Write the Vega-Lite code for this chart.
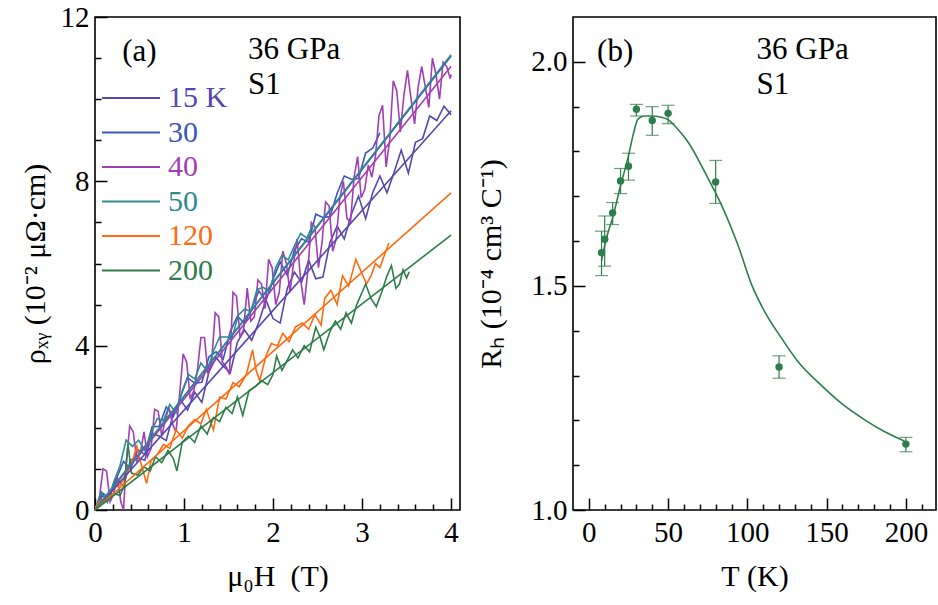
{
  "$schema": "https://vega.github.io/schema/vega-lite/v6.json",
  "autosize": {"type": "pad"},
  "padding": {"left": 19, "top": 2, "right": 0, "bottom": 0},
  "spacing": 14,
  "config": {
    "font": "Liberation Serif",
    "view": {"stroke": "#000", "strokeWidth": 1.6},
    "axis": {"labelFont": "Liberation Serif", "labelFontSize": 29, "labelColor": "#000", "titleFont": "Liberation Serif", "titleFontSize": 30, "titleFontWeight": "normal", "titleColor": "#000", "tickColor": "#000", "tickWidth": 1.5, "domain": false, "grid": false, "labelOverlap": false, "labelFlush": false, "labelBound": false},
    "text": {"font": "Liberation Serif", "fontSize": 31, "color": "#000", "align": "left", "baseline": "middle"}
  },
  "datasets": {
    "raw": [
      {"T":"15 K","H":0,"r":0},{"T":"15 K","H":0.08,"r":0.34},{"T":"15 K","H":0.16,"r":0.29},{"T":"15 K","H":0.24,"r":0.78},{"T":"15 K","H":0.32,"r":0.58},{"T":"15 K","H":0.4,"r":1.22},{"T":"15 K","H":0.48,"r":1.27},{"T":"15 K","H":0.56,"r":1.21},{"T":"15 K","H":0.64,"r":1.86},{"T":"15 K","H":0.72,"r":1.8},{"T":"15 K","H":0.8,"r":1.69},{"T":"15 K","H":0.88,"r":2.34},{"T":"15 K","H":0.96,"r":2.68},{"T":"15 K","H":1.04,"r":2.43},{"T":"15 K","H":1.12,"r":2.87},{"T":"15 K","H":1.2,"r":2.62},{"T":"15 K","H":1.28,"r":3.36},{"T":"15 K","H":1.36,"r":3.71},{"T":"15 K","H":1.44,"r":3.5},{"T":"15 K","H":1.52,"r":3.34},{"T":"15 K","H":1.6,"r":4.09},{"T":"15 K","H":1.68,"r":4.38},{"T":"15 K","H":1.76,"r":4.13},{"T":"15 K","H":1.84,"r":4.57},{"T":"15 K","H":1.92,"r":5.12},{"T":"15 K","H":2.0,"r":4.66},{"T":"15 K","H":2.08,"r":4.55},{"T":"15 K","H":2.16,"r":5.4},{"T":"15 K","H":2.24,"r":5.79},{"T":"15 K","H":2.32,"r":5.54},{"T":"15 K","H":2.4,"r":6.08},{"T":"15 K","H":2.48,"r":5.63},{"T":"15 K","H":2.56,"r":5.67},{"T":"15 K","H":2.64,"r":6.52},{"T":"15 K","H":2.72,"r":6.91},{"T":"15 K","H":2.8,"r":6.6},{"T":"15 K","H":2.88,"r":7.2},{"T":"15 K","H":2.96,"r":7.64},{"T":"15 K","H":3.04,"r":7.09},{"T":"15 K","H":3.12,"r":7.73},{"T":"15 K","H":3.2,"r":8.13},{"T":"15 K","H":3.28,"r":7.72},{"T":"15 K","H":3.36,"r":8.22},{"T":"15 K","H":3.44,"r":8.76},{"T":"15 K","H":3.52,"r":8.2},{"T":"15 K","H":3.6,"r":8.95},{"T":"15 K","H":3.68,"r":9.04},{"T":"15 K","H":3.76,"r":9.59},{"T":"15 K","H":3.84,"r":9.48},{"T":"15 K","H":3.92,"r":9.83},{"T":"15 K","H":4.0,"r":9.62},
      {"T":"30","H":0,"r":0},{"T":"30","H":0.08,"r":0.42},{"T":"30","H":0.16,"r":0.29},{"T":"30","H":0.24,"r":0.76},{"T":"30","H":0.32,"r":1.18},{"T":"30","H":0.4,"r":1.0},{"T":"30","H":0.48,"r":1.47},{"T":"30","H":0.56,"r":1.35},{"T":"30","H":0.64,"r":2.02},{"T":"30","H":0.72,"r":2.04},{"T":"30","H":0.8,"r":2.51},{"T":"30","H":0.88,"r":2.28},{"T":"30","H":0.96,"r":2.75},{"T":"30","H":1.04,"r":3.22},{"T":"30","H":1.12,"r":3.09},{"T":"30","H":1.2,"r":3.11},{"T":"30","H":1.28,"r":3.73},{"T":"30","H":1.36,"r":3.85},{"T":"30","H":1.44,"r":3.67},{"T":"30","H":1.52,"r":4.35},{"T":"30","H":1.6,"r":4.72},{"T":"30","H":1.68,"r":4.54},{"T":"30","H":1.76,"r":4.91},{"T":"30","H":1.84,"r":5.33},{"T":"30","H":1.92,"r":5.1},{"T":"30","H":2.0,"r":5.62},{"T":"30","H":2.08,"r":6.04},{"T":"30","H":2.16,"r":5.71},{"T":"30","H":2.24,"r":6.33},{"T":"30","H":2.32,"r":6.6},{"T":"30","H":2.4,"r":6.52},{"T":"30","H":2.48,"r":7.2},{"T":"30","H":2.56,"r":7.12},{"T":"30","H":2.64,"r":7.14},{"T":"30","H":2.72,"r":7.71},{"T":"30","H":2.8,"r":8.13},{"T":"30","H":2.88,"r":8.05},{"T":"30","H":2.96,"r":8.07},{"T":"30","H":3.04,"r":8.69},{"T":"30","H":3.12,"r":8.81},{"T":"30","H":3.2,"r":9.18},
      {"T":"40","H":0,"r":0},{"T":"40","H":0.05,"r":0.3},{"T":"40","H":0.09,"r":1.0},{"T":"40","H":0.13,"r":0.95},{"T":"40","H":0.17,"r":0.2},{"T":"40","H":0.21,"r":0.4},{"T":"40","H":0.25,"r":0.8},{"T":"40","H":0.29,"r":0.2},{"T":"40","H":0.32,"r":0},{"T":"40","H":0.35,"r":1.1},{"T":"40","H":0.39,"r":2.05},{"T":"40","H":0.43,"r":1.9},{"T":"40","H":0.47,"r":1.2},{"T":"40","H":0.51,"r":1.4},{"T":"40","H":0.55,"r":1.9},{"T":"40","H":0.59,"r":1.3},{"T":"40","H":0.63,"r":1.5},{"T":"40","H":0.67,"r":2.45},{"T":"40","H":0.71,"r":2.4},{"T":"40","H":0.75,"r":1.8},{"T":"40","H":0.79,"r":2.2},{"T":"40","H":0.83,"r":2.5},{"T":"40","H":0.87,"r":2.1},{"T":"40","H":0.91,"r":1.9},{"T":"40","H":0.95,"r":2.8},{"T":"40","H":0.99,"r":3.8},{"T":"40","H":1.03,"r":3.6},{"T":"40","H":1.07,"r":2.7},{"T":"40","H":1.11,"r":2.9},{"T":"40","H":1.15,"r":3.4},{"T":"40","H":1.19,"r":4.2},{"T":"40","H":1.23,"r":4.2},{"T":"40","H":1.27,"r":3.3},{"T":"40","H":1.31,"r":3.6},{"T":"40","H":1.35,"r":4.8},{"T":"40","H":1.39,"r":4.7},{"T":"40","H":1.43,"r":3.6},{"T":"40","H":1.47,"r":3.5},{"T":"40","H":1.51,"r":3.3},{"T":"40","H":1.55,"r":5.3},{"T":"40","H":1.59,"r":5.2},{"T":"40","H":1.63,"r":4.2},{"T":"40","H":1.67,"r":4.4},{"T":"40","H":1.71,"r":5.4},{"T":"40","H":1.75,"r":4.6},{"T":"40","H":1.79,"r":4.7},{"T":"40","H":1.83,"r":5.6},{"T":"40","H":1.87,"r":5.5},{"T":"40","H":1.91,"r":4.9},{"T":"40","H":1.95,"r":6.1},{"T":"40","H":1.99,"r":5.9},{"T":"40","H":2.03,"r":5.0},{"T":"40","H":2.07,"r":5.3},{"T":"40","H":2.11,"r":6.3},{"T":"40","H":2.15,"r":6.0},{"T":"40","H":2.19,"r":5.3},{"T":"40","H":2.23,"r":6.0},{"T":"40","H":2.27,"r":6.6},{"T":"40","H":2.31,"r":5.6},{"T":"40","H":2.35,"r":5.0},{"T":"40","H":2.39,"r":5.8},{"T":"40","H":2.43,"r":7.0},{"T":"40","H":2.47,"r":6.9},{"T":"40","H":2.51,"r":5.9},{"T":"40","H":2.55,"r":6.5},{"T":"40","H":2.59,"r":7.5},{"T":"40","H":2.63,"r":7.4},{"T":"40","H":2.67,"r":6.3},{"T":"40","H":2.71,"r":6.6},{"T":"40","H":2.75,"r":7.6},{"T":"40","H":2.79,"r":8.0},{"T":"40","H":2.83,"r":7.1},{"T":"40","H":2.87,"r":7.0},{"T":"40","H":2.91,"r":8.1},{"T":"40","H":2.95,"r":8.6},{"T":"40","H":2.99,"r":7.6},{"T":"40","H":3.03,"r":7.8},{"T":"40","H":3.07,"r":8.4},{"T":"40","H":3.11,"r":8.1},{"T":"40","H":3.15,"r":8.6},{"T":"40","H":3.19,"r":9.6},{"T":"40","H":3.23,"r":9.85},{"T":"40","H":3.27,"r":8.35},{"T":"40","H":3.31,"r":9.0},{"T":"40","H":3.35,"r":10.45},{"T":"40","H":3.39,"r":10.2},{"T":"40","H":3.43,"r":9.2},{"T":"40","H":3.47,"r":10.1},{"T":"40","H":3.51,"r":10.7},{"T":"40","H":3.55,"r":10.0},{"T":"40","H":3.59,"r":9.4},{"T":"40","H":3.63,"r":10.3},{"T":"40","H":3.67,"r":10.8},{"T":"40","H":3.71,"r":10.3},{"T":"40","H":3.75,"r":9.8},{"T":"40","H":3.79,"r":11.0},{"T":"40","H":3.83,"r":10.6},{"T":"40","H":3.87,"r":10.0},{"T":"40","H":3.91,"r":10.9},{"T":"40","H":3.95,"r":10.8},{"T":"40","H":3.99,"r":10.5},{"T":"40","H":4.0,"r":10.6},
      {"T":"50","H":0,"r":0},{"T":"50","H":0.07,"r":0.44},{"T":"50","H":0.14,"r":0.19},{"T":"50","H":0.21,"r":0.68},{"T":"50","H":0.28,"r":1.07},{"T":"50","H":0.35,"r":1.7},{"T":"50","H":0.42,"r":1.55},{"T":"50","H":0.49,"r":1.7},{"T":"50","H":0.56,"r":1.45},{"T":"50","H":0.63,"r":1.89},{"T":"50","H":0.7,"r":2.23},{"T":"50","H":0.77,"r":2.18},{"T":"50","H":0.84,"r":2.57},{"T":"50","H":0.91,"r":2.36},{"T":"50","H":0.98,"r":2.9},{"T":"50","H":1.05,"r":3.3},{"T":"50","H":1.12,"r":3.19},{"T":"50","H":1.19,"r":3.58},{"T":"50","H":1.26,"r":3.38},{"T":"50","H":1.33,"r":3.87},{"T":"50","H":1.4,"r":4.21},{"T":"50","H":1.47,"r":4.21},{"T":"50","H":1.54,"r":4.2},{"T":"50","H":1.61,"r":4.74},{"T":"50","H":1.68,"r":4.89},{"T":"50","H":1.75,"r":4.83},{"T":"50","H":1.82,"r":5.37},{"T":"50","H":1.89,"r":5.42},{"T":"50","H":1.96,"r":5.31},{"T":"50","H":2.03,"r":5.9},{"T":"50","H":2.1,"r":6.2},{"T":"50","H":2.17,"r":6.09},{"T":"50","H":2.24,"r":6.43},{"T":"50","H":2.31,"r":6.73},{"T":"50","H":2.38,"r":6.62},{"T":"50","H":2.45,"r":6.96},
      {"T":"120","H":0,"r":0.05},{"T":"120","H":0.07,"r":0.25},{"T":"120","H":0.14,"r":0.3},{"T":"120","H":0.21,"r":0.55},{"T":"120","H":0.28,"r":0.6},{"T":"120","H":0.35,"r":0.85},{"T":"120","H":0.42,"r":1.2},{"T":"120","H":0.47,"r":1.55},{"T":"120","H":0.52,"r":1.1},{"T":"120","H":0.58,"r":0.65},{"T":"120","H":0.63,"r":1.2},{"T":"120","H":0.7,"r":1.35},{"T":"120","H":0.77,"r":1.6},{"T":"120","H":0.84,"r":1.5},{"T":"120","H":0.91,"r":1.95},{"T":"120","H":0.98,"r":1.75},{"T":"120","H":1.05,"r":2.05},{"T":"120","H":1.12,"r":2.2},{"T":"120","H":1.19,"r":2.1},{"T":"120","H":1.25,"r":2.45},{"T":"120","H":1.33,"r":1.95},{"T":"120","H":1.4,"r":2.75},{"T":"120","H":1.47,"r":2.7},{"T":"120","H":1.55,"r":3.1},{"T":"120","H":1.62,"r":3.0},{"T":"120","H":1.7,"r":3.3},{"T":"120","H":1.77,"r":3.9},{"T":"120","H":1.81,"r":3.4},{"T":"120","H":1.85,"r":3.15},{"T":"120","H":1.92,"r":3.75},{"T":"120","H":1.98,"r":4.05},{"T":"120","H":2.05,"r":4.0},{"T":"120","H":2.11,"r":4.3},{"T":"120","H":2.18,"r":4.1},{"T":"120","H":2.25,"r":4.45},{"T":"120","H":2.33,"r":4.55},{"T":"120","H":2.4,"r":4.4},{"T":"120","H":2.47,"r":4.75},{"T":"120","H":2.54,"r":4.5},{"T":"120","H":2.58,"r":5.15},{"T":"120","H":2.65,"r":5.35},{"T":"120","H":2.72,"r":5.0},{"T":"120","H":2.78,"r":5.7},{"T":"120","H":2.85,"r":5.45},{"T":"120","H":2.93,"r":6.1},{"T":"120","H":2.99,"r":5.8},{"T":"120","H":3.05,"r":5.5},{"T":"120","H":3.1,"r":5.7},{"T":"120","H":3.15,"r":6.0},{"T":"120","H":3.2,"r":5.9},{"T":"120","H":3.25,"r":6.2},{"T":"120","H":3.3,"r":6.5},
      {"T":"200","H":0,"r":0},{"T":"200","H":0.07,"r":0.2},{"T":"200","H":0.14,"r":0.25},{"T":"200","H":0.21,"r":0.4},{"T":"200","H":0.28,"r":0.35},{"T":"200","H":0.33,"r":0.6},{"T":"200","H":0.37,"r":1.6},{"T":"200","H":0.41,"r":0.9},{"T":"200","H":0.48,"r":0.85},{"T":"200","H":0.55,"r":1.05},{"T":"200","H":0.62,"r":0.95},{"T":"200","H":0.68,"r":1.3},{"T":"200","H":0.75,"r":1.15},{"T":"200","H":0.82,"r":1.45},{"T":"200","H":0.88,"r":1.25},{"T":"200","H":0.92,"r":0.95},{"T":"200","H":0.98,"r":1.65},{"T":"200","H":1.05,"r":1.8},{"T":"200","H":1.12,"r":1.65},{"T":"200","H":1.19,"r":2.05},{"T":"200","H":1.26,"r":1.85},{"T":"200","H":1.33,"r":2.25},{"T":"200","H":1.4,"r":2.15},{"T":"200","H":1.47,"r":2.5},{"T":"200","H":1.54,"r":2.35},{"T":"200","H":1.6,"r":2.75},{"T":"200","H":1.66,"r":2.3},{"T":"200","H":1.73,"r":2.9},{"T":"200","H":1.8,"r":3.0},{"T":"200","H":1.87,"r":3.15},{"T":"200","H":1.94,"r":3.05},{"T":"200","H":2.0,"r":3.3},{"T":"200","H":2.04,"r":3.75},{"T":"200","H":2.1,"r":3.4},{"T":"200","H":2.16,"r":3.65},{"T":"200","H":2.22,"r":3.9},{"T":"200","H":2.28,"r":3.7},{"T":"200","H":2.35,"r":4.0},{"T":"200","H":2.41,"r":3.85},{"T":"200","H":2.48,"r":4.45},{"T":"200","H":2.53,"r":4.2},{"T":"200","H":2.57,"r":3.9},{"T":"200","H":2.64,"r":4.35},{"T":"200","H":2.7,"r":4.6},{"T":"200","H":2.76,"r":4.4},{"T":"200","H":2.82,"r":4.8},{"T":"200","H":2.88,"r":4.55},{"T":"200","H":2.94,"r":5.0},{"T":"200","H":3.0,"r":5.3},{"T":"200","H":3.04,"r":5.5},{"T":"200","H":3.1,"r":5.15},{"T":"200","H":3.16,"r":4.95},{"T":"200","H":3.22,"r":5.3},{"T":"200","H":3.28,"r":5.7},{"T":"200","H":3.33,"r":5.95},{"T":"200","H":3.38,"r":5.4},{"T":"200","H":3.42,"r":5.5},{"T":"200","H":3.46,"r":5.85},{"T":"200","H":3.5,"r":5.65},{"T":"200","H":3.53,"r":5.8}
    ],
    "fit": [
      {"T":"15 K","H":0,"r":0},{"T":"15 K","H":4,"r":9.72},
      {"T":"30","H":0,"r":0},{"T":"30","H":4,"r":11.05},
      {"T":"40","H":0,"r":0},{"T":"40","H":4,"r":10.8},
      {"T":"50","H":0,"r":0},{"T":"50","H":4,"r":11.08},
      {"T":"120","H":0,"r":0},{"T":"120","H":4,"r":7.72},
      {"T":"200","H":0,"r":0},{"T":"200","H":4,"r":6.69}
    ],
    "rh": [
      {"T":8,"R":1.574,"lo":1.523,"hi":1.622},
      {"T":10,"R":1.604,"lo":1.544,"hi":1.656},
      {"T":15,"R":1.663,"lo":1.637,"hi":1.686},
      {"T":20,"R":1.734,"lo":1.706,"hi":1.762},
      {"T":25,"R":1.767,"lo":1.736,"hi":1.796},
      {"T":30,"R":1.894,"lo":1.879,"hi":1.905},
      {"T":40,"R":1.869,"lo":1.836,"hi":1.9},
      {"T":50,"R":1.885,"lo":1.862,"hi":1.903},
      {"T":80,"R":1.732,"lo":1.684,"hi":1.78},
      {"T":120,"R":1.319,"lo":1.294,"hi":1.344},
      {"T":200,"R":1.147,"lo":1.13,"hi":1.162}
    ],
    "curve": [
      {"T":8,"R":1.556},{"T":10,"R":1.59},{"T":12,"R":1.618},{"T":15,"R":1.652},{"T":20,"R":1.724},{"T":25,"R":1.79},{"T":28,"R":1.838},{"T":31,"R":1.872},{"T":35,"R":1.879},{"T":40,"R":1.879},{"T":45,"R":1.877},{"T":50,"R":1.871},{"T":56,"R":1.85},{"T":63,"R":1.819},{"T":73,"R":1.755},{"T":84,"R":1.678},{"T":94,"R":1.592},{"T":103,"R":1.5},{"T":111,"R":1.442},{"T":122,"R":1.381},{"T":132,"R":1.331},{"T":147,"R":1.277},{"T":160,"R":1.236},{"T":175,"R":1.199},{"T":187,"R":1.174},{"T":199,"R":1.154}
    ]
  },
  "hconcat": [
    {
      "width": 365,
      "height": 493,
      "resolve": {"axis": {"x": "independent", "y": "independent"}},
      "layer": [
        {
          "data": {"name": "raw"},
          "mark": {"type": "line", "strokeWidth": 1.6, "clip": true},
          "encoding": {
            "x": {"field": "H", "type": "quantitative", "scale": {"domain": [0, 4.1], "nice": false, "zero": false},
              "axis": {"orient": "bottom", "title": "μ₀H\u00a0\u00a0(T)", "titlePadding": 14, "format": "d", "values": [0,1,2,3,4], "tickSize": -12, "labelPadding": 20}},
            "y": {"field": "r", "type": "quantitative", "scale": {"domain": [0, 12], "nice": false},
              "axis": {"orient": "left", "title": "ρₓᵧ\u00a0(10⁻²\u00a0μΩ·cm)", "titlePadding": 10, "format": "d", "values": [0,4,8,12], "tickSize": -12, "labelPadding": 18}},
            "color": {"field": "T", "type": "nominal",
              "scale": {"domain": ["15 K","30","40","50","120","200"], "range": ["#5646ad","#3a55bd","#a03fb3","#2e8a91","#ff6b0f","#2e7d4a"]},
              "legend": {"orient": "none", "legendX": 6, "legendY": 66, "title": null, "symbolType": "stroke", "symbolSize": 3364, "symbolStrokeWidth": 2, "clipHeight": 30, "labelFont": "Liberation Serif", "labelFontSize": 30, "labelOffset": 7, "rowPadding": 4.5, "padding": 0,
                "encode": {"labels": {"update": {"fill": {"scale": "color", "field": "value"}}}}}}
          }
        },
        {
          "data": {"name": "fit"},
          "mark": {"type": "line", "strokeWidth": 1.6},
          "encoding": {
            "x": {"field": "H", "type": "quantitative",
              "axis": {"orient": "bottom", "title": null, "labels": false, "tickSize": -6, "values": [0.2,0.4,0.6,0.8,1.2,1.4,1.6,1.8,2.2,2.4,2.6,2.8,3.2,3.4,3.6,3.8]}},
            "y": {"field": "r", "type": "quantitative",
              "axis": {"orient": "left", "title": null, "labels": false, "tickSize": -6, "values": [1,2,3,5,6,7,9,10,11]}},
            "color": {"field": "T", "type": "nominal"}
          }
        },
        {
          "data": {"values": [{}]},
          "mark": {"type": "text", "text": "(a)"},
          "encoding": {"x": {"datum": 0.306, "type": "quantitative", "axis": null}, "y": {"datum": 11.14, "type": "quantitative", "axis": null}}
        },
        {
          "data": {"values": [{}]},
          "mark": {"type": "text", "text": "36 GPa"},
          "encoding": {"x": {"datum": 1.72, "type": "quantitative", "axis": null}, "y": {"datum": 11.19, "type": "quantitative", "axis": null}}
        },
        {
          "data": {"values": [{}]},
          "mark": {"type": "text", "text": "S1"},
          "encoding": {"x": {"datum": 1.72, "type": "quantitative", "axis": null}, "y": {"datum": 10.34, "type": "quantitative", "axis": null}}
        }
      ]
    },
    {
      "width": 363,
      "height": 493,
      "resolve": {"axis": {"x": "independent", "y": "independent"}},
      "layer": [
        {
          "data": {"name": "curve"},
          "mark": {"type": "line", "strokeWidth": 1.6, "color": "#2e7d4c", "interpolate": "monotone"},
          "encoding": {
            "x": {"field": "T", "type": "quantitative", "scale": {"domain": [-10, 219], "nice": false, "zero": false},
              "axis": {"orient": "bottom", "title": "T\u00a0(K)", "titlePadding": 14, "format": "d", "values": [0,50,100,150,200], "tickSize": -12, "labelPadding": 20}},
            "y": {"field": "R", "type": "quantitative", "scale": {"domain": [1.0, 2.1], "nice": false, "zero": false},
              "axis": {"orient": "left", "title": "Rₕ\u00a0(10⁻⁴\u00a0cm³\u00a0C⁻¹)", "titlePadding": 24, "format": ".1f", "values": [1.0,1.5,2.0], "tickSize": -12, "labelPadding": 18}}
          }
        },
        {
          "data": {"name": "rh"},
          "mark": {"type": "errorbar", "ticks": {"size": 13}, "thickness": 1.2},
          "encoding": {
            "x": {"field": "T", "type": "quantitative", "axis": null},
            "y": {"field": "lo", "type": "quantitative", "axis": null},
            "y2": {"field": "hi"},
            "color": {"value": "#2e7d4c"}
          }
        },
        {
          "data": {"name": "rh"},
          "mark": {"type": "circle", "size": 55, "opacity": 1, "color": "#2e7d4c"},
          "encoding": {
            "x": {"field": "T", "type": "quantitative",
              "axis": {"orient": "bottom", "title": null, "labels": false, "tickSize": -6, "values": [10,20,30,40,60,70,80,90,110,120,130,140,160,170,180,190,210]}},
            "y": {"field": "R", "type": "quantitative",
              "axis": {"orient": "left", "title": null, "labels": false, "tickSize": -6, "values": [1.1,1.2,1.3,1.4,1.6,1.7,1.8,1.9]}}
          }
        },
        {
          "data": {"values": [{}]},
          "mark": {"type": "text", "text": "(b)"},
          "encoding": {"x": {"datum": 5.2, "type": "quantitative", "axis": null}, "y": {"datum": 2.021, "type": "quantitative", "axis": null}}
        },
        {
          "data": {"values": [{}]},
          "mark": {"type": "text", "text": "36 GPa"},
          "encoding": {"x": {"datum": 105.8, "type": "quantitative", "axis": null}, "y": {"datum": 2.027, "type": "quantitative", "axis": null}}
        },
        {
          "data": {"values": [{}]},
          "mark": {"type": "text", "text": "S1"},
          "encoding": {"x": {"datum": 105.8, "type": "quantitative", "axis": null}, "y": {"datum": 1.949, "type": "quantitative", "axis": null}}
        }
      ]
    }
  ]
}
